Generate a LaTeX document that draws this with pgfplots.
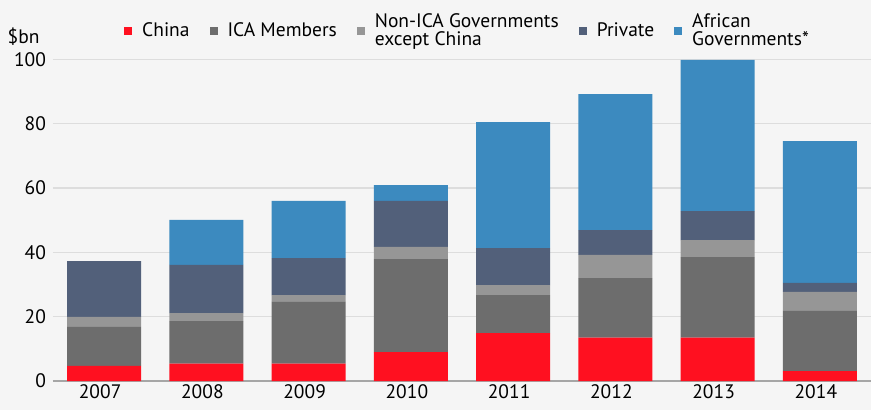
\documentclass[border=0pt]{standalone}
\usepackage{pgfplots}
\pgfplotsset{compat=1.18}
\usepackage{fontspec}
\setmainfont{PT Sans}
\definecolor{bg}{HTML}{F5F5F5}
\definecolor{cchina}{HTML}{FF1020}
\definecolor{cica}{HTML}{6D6D6D}
\definecolor{cnon}{HTML}{969696}
\definecolor{cpriv}{HTML}{52607A}
\definecolor{cafr}{HTML}{3C8ABF}
\definecolor{cgrid}{HTML}{DDDDDD}
\definecolor{caxis}{HTML}{A6A6A6}
\newcommand{\fs}{\fontsize{19.5}{18}\selectfont}
\begin{document}
\begin{tikzpicture}[font=\fs]
\fill[bg] (0,0) rectangle (871pt,410pt);
\begin{axis}[
  at={(53pt,29pt)}, anchor=south west,
  scale only axis, width=818pt, height=321.7pt,
  xmin=-0.5, xmax=7.5, ymin=0, ymax=100,
  ybar stacked, bar width=74pt,
  xtick=data, xticklabels={2007,2008,2009,2010,2011,2012,2013,2014},
  ytick={0,20,40,60,80,100},
  major tick length=0pt,
  /pgf/number format/assume math mode=true,
  tick label style={font=\fs},
  xticklabel style={xshift=-4pt},
  yticklabel style={xshift=-3.5pt},
  ymajorgrids, major grid style={draw=cgrid, line width=1.2pt},
  separate axis lines,
  axis x line*=bottom, axis y line*=left,
  x axis line style={draw=caxis, line width=1.6pt},
  y axis line style={draw=none},
  legend image code/.code={\fill[#1] (0pt,-4pt) rectangle (8pt,4pt);},
  legend style={at={(0.0868,1.0895)}, anchor=west, draw=none, fill=none,
    font=\fs, inner sep=0pt, legend columns=5,
    /tikz/every odd column/.append style={column sep=8pt},
    /tikz/every even column/.append style={column sep=18pt},
    cells={anchor=west, align=left}},
  clip=false,
]
\addplot[fill=cchina, draw=none] coordinates {(0,4.7) (1,5.4) (2,5.4) (3,9.0) (4,14.9) (5,13.5) (6,13.5) (7,3.1)};
\addplot[fill=cica, draw=none] coordinates {(0,12.1) (1,13.25) (2,19.2) (3,28.9) (4,11.8) (5,18.5) (6,25.0) (7,18.7)};
\addplot[fill=cnon, draw=none] coordinates {(0,3.1) (1,2.45) (2,2.1) (3,3.8) (4,3.1) (5,7.2) (6,5.3) (7,5.9)};
\addplot[fill=cpriv, draw=none] coordinates {(0,17.4) (1,15.0) (2,11.5) (3,14.3) (4,11.5) (5,7.7) (6,9.0) (7,2.8)};
\addplot[fill=cafr, draw=none] coordinates {(0,0) (1,14.0) (2,17.8) (3,4.9) (4,39.2) (5,42.3) (6,47.0) (7,44.1)};
\legend{China, ICA Members, Non-ICA Governments\\except China, Private, African\\Governments*}
\node[anchor=base east, font=\fs] at (axis description cs:-0.0122,1.0476) {\$bn};
\end{axis}
\pgfresetboundingbox
\path[use as bounding box] (0,0) rectangle (871pt,410pt);
\end{tikzpicture}
\end{document}
